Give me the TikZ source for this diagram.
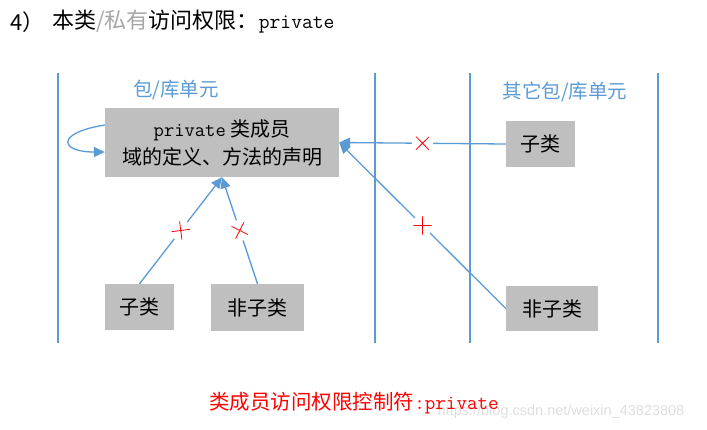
\documentclass[tikz,border=0pt]{standalone}
\usepackage{fontspec}
\setmainfont{Noto Sans CJK SC}
\newfontfamily\wmfont{Liberation Sans}
\usetikzlibrary{arrows.meta}
\definecolor{lineblue}{HTML}{5B9BD5}
\definecolor{boxgray}{HTML}{BFBFBF}
\definecolor{crossred}{HTML}{FF0000}
\definecolor{midgray}{HTML}{A6A6A6}
\tikzset{
  box/.style={fill=boxgray, inner sep=0pt, minimum height=46pt, font=\fontsize{20pt}{28pt}\selectfont},
  arr/.style={draw=lineblue, line width=1.3pt, -{Triangle[length=11pt,width=10pt]}},
  lane/.style={draw=lineblue, line width=1.3pt},
  lanelabel/.style={text=lineblue, font=\fontsize{19.5pt}{22pt}\selectfont, inner sep=0pt},
  nocross/.style={sloped, fill=white, draw=none, minimum width=21pt, minimum height=14pt, inner sep=0pt,
    path picture={\draw[crossred, line width=0.8pt, -]
      ([shift={(-6.5pt,-6.5pt)}]path picture bounding box.center) -- ([shift={(6.5pt,6.5pt)}]path picture bounding box.center)
      ([shift={(-6.5pt,6.5pt)}]path picture bounding box.center) -- ([shift={(6.5pt,-6.5pt)}]path picture bounding box.center);}}
}
\begin{document}
\begin{tikzpicture}[x=1pt,y=-1pt]
\useasboundingbox (0,0) rectangle (707,429);
% title
\node[anchor=west, inner sep=0pt, font=\fontsize{22pt}{24pt}\selectfont] (num) at (10,22) {4）};
\node[anchor=west, inner sep=0pt, font=\fontsize{22pt}{24pt}\selectfont] (title) at (52,22)
  {本类{\color{midgray}/私有}访问权限：{\fontsize{21pt}{24pt}\selectfont\ttfamily private}};
% lanes
\coordinate (l1t) at (58,73);  \coordinate (l1b) at (58,343);
\coordinate (l2t) at (375,73); \coordinate (l2b) at (375,343);
\coordinate (l3t) at (470,73); \coordinate (l3b) at (470,343);
\coordinate (l4t) at (658,73); \coordinate (l4b) at (658,343);
\draw[lane] (l1t) -- (l1b);
\draw[lane] (l2t) -- (l2b);
\draw[lane] (l3t) -- (l3b);
\draw[lane] (l4t) -- (l4b);
\node[lanelabel] (pkg) at (176,90) {包/库单元};
\node[lanelabel] (opkg) at (565,92) {其它包/库单元};
% boxes
\node[box, minimum width=234pt, minimum height=69pt, align=center] (main) at (222,142.5)
  {{\ttfamily private} 类成员\\域的定义、方法的声明};
\node[box, minimum width=69pt] (sub1) at (139.5,307) {子类};
\node[box, minimum width=93pt, minimum height=47pt] (nsub1) at (257.5,307.5) {非子类};
\node[box, minimum width=69pt] (sub2) at (540.5,144) {子类};
\node[box, minimum width=92pt, minimum height=45pt] (nsub2) at (552,308.5) {非子类};
% connectors
\draw[arr] ([yshift=17.5pt]main.west) .. controls +(-50,8) and +(-45,0) .. ([yshift=-9.5pt]main.west);
\draw[arr] (sub1.north) -- node[nocross]{} (main.south);
\draw[arr] (nsub1.north) -- node[nocross]{} (main.south);
\draw[arr] (sub2.west) -- node[nocross]{} (main.east);
\draw[arr] (nsub2.west) -- node[nocross]{} (main.east);
% watermark and caption
\node[text=black!13, font=\wmfont\fontsize{14.5pt}{16pt}\selectfont, inner sep=0pt] (wm) at (561,412) {https://blog.csdn.net/weixin\_43823808};
\node[text=crossred, font=\fontsize{20.5pt}{22pt}\selectfont, inner sep=0pt] (cap) at (354,403) {类成员访问权限控制符{\ttfamily :private}};
\end{tikzpicture}
\end{document}
